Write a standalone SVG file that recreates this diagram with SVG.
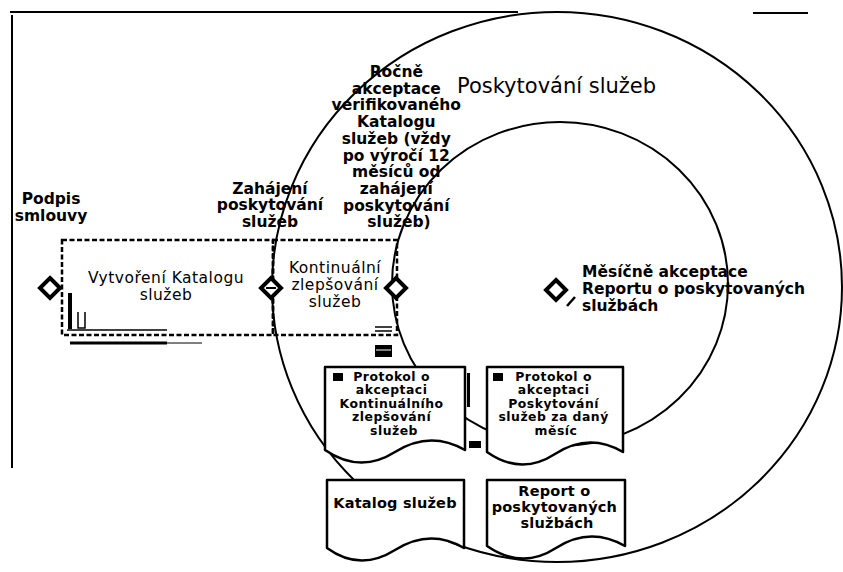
<svg xmlns="http://www.w3.org/2000/svg" width="843" height="572" viewBox="0 0 843 572">
<defs>
<style>
text{font-family:"DejaVu Sans","Liberation Sans",sans-serif;fill:#000}
.lbl{font-size:15.5px;font-weight:bold}
.box{font-size:15.5px;letter-spacing:0.5px}
.title{font-size:21px}
.dtxt{font-size:12.4px;font-weight:bold;letter-spacing:0.5px}
.dtxt2{font-size:14.5px;font-weight:bold;letter-spacing:0.2px}
.doc{fill:#fff;stroke:#000;stroke-width:2.5;stroke-linejoin:round}
.ring{fill:none;stroke:#000;stroke-width:2}
.dash{fill:none;stroke:#000;stroke-width:2.5;stroke-dasharray:5 2.5}
.dia{fill:#fff;stroke:#000;stroke-width:4;stroke-linejoin:miter}
.frame{stroke:#000;stroke-width:2;fill:none}
.mark{stroke:#000;fill:none}
</style>
</defs>

<g id="frame">
  <line class="frame" x1="12" y1="15" x2="12" y2="468"/>
  <line class="frame" x1="10" y1="12" x2="518" y2="12"/>
  <line class="frame" x1="753" y1="13" x2="808" y2="13"/>
</g>

<g id="connectors">
  <ellipse class="ring" cx="557" cy="287" rx="285" ry="275"/>
  <ellipse class="ring" cx="560" cy="284" rx="168" ry="162"/>
</g>

<g id="vytvoreni">
  <rect class="dash" x="62" y="240" width="211" height="95"/>
  <line class="mark" x1="70" y1="293" x2="70" y2="329" stroke-width="4"/>
  <path class="mark" d="M78,312 V328 H85 V312" stroke-width="1.5"/>
  <line class="mark" x1="67" y1="330" x2="167" y2="330" stroke-width="1.5"/>
  <line class="mark" x1="70" y1="343" x2="167" y2="343" stroke-width="3"/>
  <line class="mark" x1="167" y1="343" x2="202" y2="343" stroke-width="1"/>
  <text class="box" x="166" y="283" text-anchor="middle">Vytvoření Katalogu</text>
  <text class="box" x="166" y="300" text-anchor="middle">služeb</text>
</g>

<g id="kontinualni">
  <rect class="dash" x="273" y="240" width="124" height="95"/>
  <line class="mark" x1="375" y1="327" x2="392" y2="327" stroke-width="1.5"/>
  <line class="mark" x1="375" y1="331" x2="392" y2="331" stroke-width="1.5"/>
  <rect x="375" y="345" width="17" height="12" fill="#000"/>
  <line x1="376" y1="350" x2="391" y2="350" stroke="#fff" stroke-width="1"/>
  <text class="box" x="335" y="273" text-anchor="middle">Kontinuální</text>
  <text class="box" x="335" y="290" text-anchor="middle">zlepšování</text>
  <text class="box" x="335" y="307" text-anchor="middle">služeb</text>
</g>

<g id="poskytovani">
  <text class="title" x="457" y="93">Poskytování služeb</text>
</g>

<g id="podpis">
  <polygon class="dia" points="50,278 60,288 50,298 40,288"/>
  <text class="lbl" x="51" y="204" text-anchor="middle">Podpis</text>
  <text class="lbl" x="51" y="221" text-anchor="middle">smlouvy</text>
</g>

<g id="zahajeni">
  <polygon class="dia" points="271,278 281,288 271,298 261,288"/>
  <line x1="266" y1="288" x2="276" y2="288" stroke="#000" stroke-width="2"/>
  <text class="lbl" x="270" y="193.5" text-anchor="middle">Zahájení</text>
  <text class="lbl" x="270" y="210.2" text-anchor="middle">poskytování</text>
  <text class="lbl" x="270" y="227" text-anchor="middle">služeb</text>
</g>

<g id="rocne">
  <polygon class="dia" points="396,278 406,288 396,298 386,288"/>
  <text class="lbl" text-anchor="middle">
    <tspan x="399" y="77">Ročně</tspan>
    <tspan x="399" y="93.7">akceptace</tspan>
    <tspan x="399" y="110.4">verifikovaného</tspan>
    <tspan x="399" y="127">Katalogu</tspan>
    <tspan x="399" y="143.8">služeb (vždy</tspan>
    <tspan x="399" y="160.5">po výročí 12</tspan>
    <tspan x="399" y="177.2">měsíců od</tspan>
    <tspan x="399" y="193.9">zahájení</tspan>
    <tspan x="399" y="210.6">poskytování</tspan>
    <tspan x="399" y="227.3">služeb)</tspan>
  </text>
</g>

<g id="mesicne">
  <polygon class="dia" points="556,280 566,290 556,300 546,290"/>
  <line x1="575" y1="297" x2="567" y2="306" stroke="#000" stroke-width="2.5"/>
  <text class="lbl" x="582" y="277">Měsíčně akceptace</text>
  <text class="lbl" x="582" y="294">Reportu o poskytovaných</text>
  <text class="lbl" x="582" y="311">službách</text>
</g>

<g id="protokol-kz">
  <path class="doc" d="M325,367 H465 V450 Q430,430 395,452 T325,450 Z"/>
  <rect x="333" y="373" width="10" height="8" fill="#000"/>
  <rect x="467" y="373" width="3" height="34" fill="#000"/>
  <text class="dtxt" text-anchor="middle">
    <tspan x="394" y="380.5">Protokol o</tspan>
    <tspan x="394" y="394">akceptaci</tspan>
    <tspan x="394" y="407.5">Kontinuálního</tspan>
    <tspan x="394" y="421">zlepšování</tspan>
    <tspan x="394" y="434.5">služeb</tspan>
  </text>
</g>

<g id="protokol-ps">
  <path class="doc" d="M487,367 H623 V452 Q589,432 555,454 T487,452 Z"/>
  <rect x="493" y="373" width="10" height="8" fill="#000"/>
  <rect x="469" y="441" width="12" height="7" fill="#000"/>
  <text class="dtxt" text-anchor="middle">
    <tspan x="556" y="380.5">Protokol o</tspan>
    <tspan x="556" y="394">akceptaci</tspan>
    <tspan x="556" y="407.5">Poskytování</tspan>
    <tspan x="556" y="421">služeb za daný</tspan>
    <tspan x="556" y="434.5">měsíc</tspan>
  </text>
</g>

<g id="katalog">
  <path class="doc" d="M327,480 H464 V548 Q430,528 395,550 T327,548 Z"/>
  <text class="dtxt2" x="395" y="508" text-anchor="middle">Katalog služeb</text>
</g>

<g id="report">
  <path class="doc" d="M487,480 H625 V546 Q590,526 556,548 T487,546 Z"/>
  <text class="dtxt2" text-anchor="middle">
    <tspan x="557" y="496">Report o</tspan>
    <tspan x="557" y="512">poskytovaných</tspan>
    <tspan x="557" y="528">službách</tspan>
  </text>
</g>
</svg>
